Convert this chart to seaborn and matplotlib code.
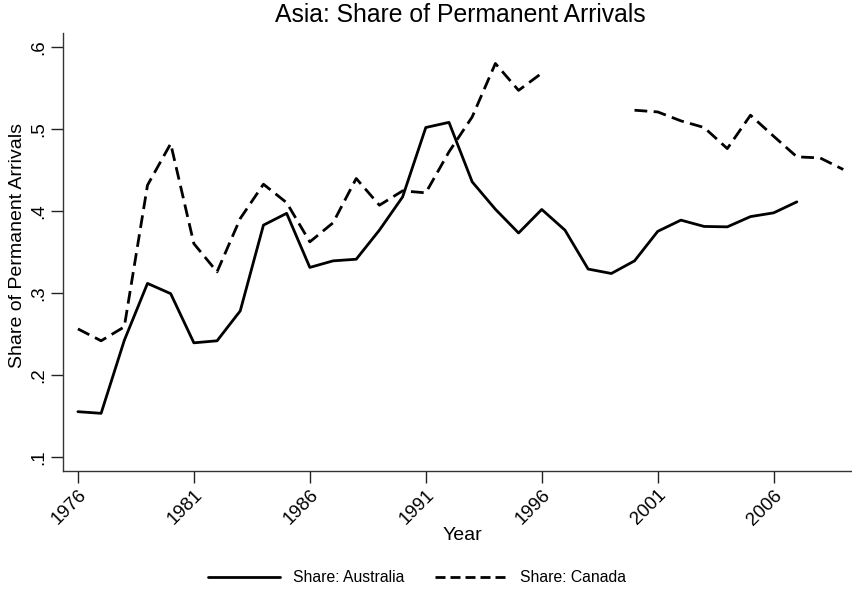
import matplotlib
matplotlib.use("Agg")
import matplotlib.pyplot as plt
from matplotlib.lines import Line2D
import numpy as np
import pandas as pd
import seaborn as sns

# Share of permanent arrivals from Asia, by destination country
years_australia = list(range(1976, 2008))
share_australia = [
    0.155, 0.153, 0.242, 0.3115, 0.299, 0.239, 0.2415, 0.278,
    0.3826, 0.397, 0.331, 0.339, 0.341, 0.3765, 0.417, 0.5017,
    0.508, 0.4354, 0.402, 0.373, 0.4017, 0.3765, 0.329, 0.3236,
    0.339, 0.375, 0.3887, 0.381, 0.3805, 0.393, 0.3976, 0.411,
]

years_canada_early = list(range(1976, 1997))
share_canada_early = [
    0.256, 0.2415, 0.2585, 0.4313, 0.482, 0.360, 0.3256, 0.3907,
    0.4325, 0.410, 0.3622, 0.3854, 0.4395, 0.4069, 0.4244, 0.422,
    0.472, 0.5146, 0.5798, 0.547, 0.568,
]
years_canada_late = list(range(2000, 2010))
share_canada_late = [
    0.5228, 0.5207, 0.5098, 0.5017, 0.476, 0.5167, 0.491, 0.4659,
    0.4646, 0.4505,
]

year_ticks = [1976, 1981, 1986, 1991, 1996, 2001, 2006]
share_ticks = [0.1, 0.2, 0.3, 0.4, 0.5, 0.6]
share_tick_labels = [".1", ".2", ".3", ".4", ".5", ".6"]

label_aus = "Share: Australia"
label_can = "Share: Canada"

df = pd.concat([
    pd.DataFrame({"Year": years_australia, "share": share_australia,
                  "series": label_aus, "segment": "aus"}),
    pd.DataFrame({"Year": years_canada_early, "share": share_canada_early,
                  "series": label_can, "segment": "can1"}),
    pd.DataFrame({"Year": years_canada_late, "share": share_canada_late,
                  "series": label_can, "segment": "can2"}),
], ignore_index=True)

sns.set_theme(style="ticks")
plt.rcParams["font.family"] = ["Liberation Sans", "DejaVu Sans"]
plt.rcParams["text.color"] = "black"
plt.rcParams["axes.labelcolor"] = "black"
plt.rcParams["xtick.color"] = "black"
plt.rcParams["ytick.color"] = "black"

W, H = 853, 595
fig = plt.figure(figsize=(W / 100, H / 100), dpi=100)
ax_left, ax_bottom, ax_top = 63.3, 470.7, 33
ax = fig.add_axes([ax_left / W, 1 - ax_bottom / H, 1 - ax_left / W,
                   (ax_bottom - ax_top) / H])

dash = (4.6, 2.3)
lw = 2.0
sns.lineplot(
    data=df, x="Year", y="share", style="series", units="segment",
    estimator=None, color="black", linewidth=lw,
    dashes={label_aus: "", label_can: dash}, legend=False, ax=ax,
)

ax.set_xlim(1975.37, 2009.42)
ax.set_ylim(0.083, 0.617)
ax.set_xticks(year_ticks)
ax.set_xticklabels([str(y) for y in year_ticks], rotation=45, ha="right",
                   va="top", rotation_mode="anchor", fontsize=13.5)
ax.set_yticks(share_ticks)
ax.set_yticklabels(share_tick_labels, rotation=90, va="center", fontsize=13.5)

ax.tick_params(axis="both", direction="out", length=8.5, width=1.0,
               color="#222222", pad=3)
for side in ("top", "right"):
    ax.spines[side].set_visible(False)
for side in ("left", "bottom"):
    ax.spines[side].set_color("#333333")
    ax.spines[side].set_linewidth(1.0)

ax_w = W - ax_left
ax_h = ax_bottom - ax_top
ax.set_xlabel("Year", fontsize=14)
ax.xaxis.set_label_coords((462 - ax_left) / ax_w, (ax_bottom - 535) / ax_h)
ax.xaxis.label.set_va("center")
ax.set_ylabel("Share of Permanent Arrivals", fontsize=14)
ax.yaxis.set_label_coords((18 - ax_left) / ax_w, (ax_bottom - 245) / ax_h)
ax.yaxis.label.set_va("center")

fig.text(460 / W, 1 - 15.5 / H, "Asia: Share of Permanent Arrivals",
         fontsize=17.8, ha="center", va="center")

handles = [
    Line2D([], [], color="black", linewidth=lw),
    Line2D([], [], color="black", linewidth=lw, dashes=(3.6, 1.8)),
]
fig.legend(handles, [label_aus, label_can], loc="center",
           bbox_to_anchor=(417 / W, 1 - 578 / H), ncol=2, frameon=False,
           fontsize=11.3, handlelength=4.6, handletextpad=0.8,
           columnspacing=2.0)

fig.savefig("out.png", dpi=100)
